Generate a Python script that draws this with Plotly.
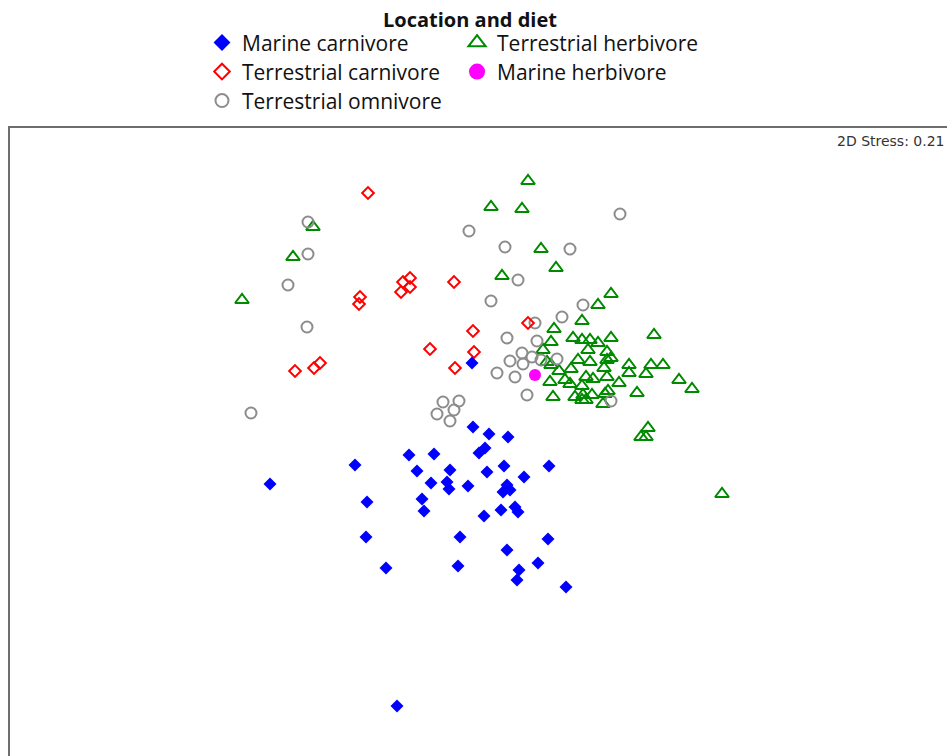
import plotly.graph_objects as go

# NMDS ordination scores (MDS1, MDS2) by location and diet group
marine_carnivore_x = [-0.07, 0.09, 0.28, -0.01, 0.05, -0.71, -0.46, -1.25, -0.63, -0.30,
                      -0.33, -0.31, 0.07, 0.24, 0.69, 0.44, -0.49, -0.12, 0.27, 0.23,
                      0.30, -0.58, -0.56, 0.04, 0.21, 0.35, 0.38, -1.13, -1.14, -0.20,
                      0.68, 0.27, 0.58, -0.94, -0.22, 0.39, 0.37, 0.86, -2.10, -0.83, -0.08]
marine_carnivore_y = [0.13, 0.06, 0.03, -0.13, -0.08, -0.15, -0.14, -0.25, -0.31, -0.30,
                      -0.42, -0.49, -0.32, -0.26, -0.26, -0.37, -0.43, -0.46, -0.45, -0.52,
                      -0.50, -0.59, -0.71, -0.76, -0.70, -0.67, -0.72, -0.62, -0.97, -0.97,
                      -0.99, -1.10, -1.23, -1.28, -1.26, -1.30, -1.40, -1.47, -0.44, -2.66, 0.77]

terrestrial_carnivore_x = [-1.12, -0.77, -0.70, -0.79, -0.70, -0.26, -1.20, -1.21,
                           -0.07, -0.50, -0.06, -1.85, -1.66, -1.60, -0.25, 0.48]
terrestrial_carnivore_y = [2.47, 1.58, 1.62, 1.48, 1.53, 1.58, 1.43, 1.36,
                           1.09, 0.91, 0.88, 0.69, 0.72, 0.77, 0.72, 1.17]

terrestrial_omnivore_x = [-1.72, -0.11, -1.72, -1.92, 0.11, -1.73, -2.29, -0.37, -0.21, -0.26,
                          -0.43, -0.30, 0.17, 1.40, 0.25, 0.90, 0.38, 1.03, 0.82, 0.55,
                          0.27, 0.57, 0.42, 0.30, 0.52, 0.43, 0.61, 0.77, 0.35, 0.47, 1.31]
terrestrial_omnivore_y = [2.18, 2.09, 1.86, 1.55, 1.39, 1.13, 0.27, 0.38, 0.39, 0.30,
                          0.26, 0.19, 0.67, 2.26, 1.93, 1.91, 1.60, 1.35, 1.23, 1.17,
                          1.02, 0.99, 0.87, 0.79, 0.83, 0.76, 0.80, 0.81, 0.63, 0.45, 0.39]

terrestrial_herbivore_x = [0.48, 0.11, 0.42, -1.67, -1.87, -2.38, 0.61, 0.76, 0.22, 1.31,
                           1.18, 1.02, 0.74, 1.74, 0.93, 1.02, 1.10, 1.18, 1.31, 0.71,
                           1.08, 1.27, 0.63, 0.67, 0.71, 0.98, 1.10, 1.27, 1.31, 0.91,
                           1.24, 0.79, 1.49, 1.71, 1.83, 1.49, 1.66, 0.70, 0.85, 1.06,
                           1.13, 1.27, 0.90, 1.02, 1.39, 1.99, 2.12, 1.28, 1.57, 0.73,
                           0.95, 1.03, 1.12, 1.02, 1.06, 1.25, 1.23, 1.68, 1.61, 1.66, 2.42]
terrestrial_herbivore_y = [2.59, 2.33, 2.31, 2.13, 1.83, 1.40, 1.91, 1.72, 1.64, 1.46,
                           1.35, 1.19, 1.11, 1.05, 1.02, 1.00, 1.00, 0.97, 1.02, 0.98,
                           0.90, 0.88, 0.90, 0.78, 0.75, 0.80, 0.78, 0.80, 0.82, 0.71,
                           0.72, 0.69, 0.75, 0.75, 0.75, 0.67, 0.66, 0.58, 0.60, 0.63,
                           0.61, 0.63, 0.56, 0.54, 0.57, 0.60, 0.51, 0.49, 0.47, 0.43,
                           0.43, 0.45, 0.45, 0.40, 0.40, 0.46, 0.36, 0.12, 0.03, 0.03, -0.54]

marine_herbivore_x = [0.55]
marine_herbivore_y = [0.65]

stress_value = 0.21

GREEN = "#008a00"
GREY = "#8c8c8c"
RED = "#ff0000"
BLUE = "#0000ff"
MAGENTA = "#ff00ff"

# Drawing order is back-to-front; each group gets its own legend slot
groups = [
    dict(name="Terrestrial herbivore", x=terrestrial_herbivore_x, y=terrestrial_herbivore_y,
         symbol="triangle-up-open", color=GREEN, size=12, lw=2, legend_size=15,
         legend="legend4"),
    dict(name="Terrestrial omnivore", x=terrestrial_omnivore_x, y=terrestrial_omnivore_y,
         symbol="circle-open", color=GREY, size=11, lw=2, legend_size=13,
         legend="legend3"),
    dict(name="Terrestrial carnivore", x=terrestrial_carnivore_x, y=terrestrial_carnivore_y,
         symbol="diamond-open", color=RED, size=9, lw=2, legend_size=12,
         legend="legend2"),
    dict(name="Marine carnivore", x=marine_carnivore_x, y=marine_carnivore_y,
         symbol="diamond", color=BLUE, size=10, lw=0, legend_size=13,
         legend="legend"),
    dict(name="Marine herbivore", x=marine_herbivore_x, y=marine_herbivore_y,
         symbol="circle", color=MAGENTA, size=12, lw=0, legend_size=16,
         legend="legend5"),
]

fig = go.Figure()

for g in groups:
    fig.add_trace(go.Scatter(
        x=g["x"], y=g["y"], mode="markers", name=g["name"], showlegend=False,
        marker=dict(symbol=g["symbol"], size=g["size"], color=g["color"],
                    line=dict(width=g["lw"], color=g["color"])),
    ))

# Legend keys drawn with larger symbols than the plotted points
for g in groups:
    fig.add_trace(go.Scatter(
        x=[None], y=[None], mode="markers", name=g["name"], legend=g["legend"],
        showlegend=True,
        marker=dict(symbol=g["symbol"], size=g["legend_size"], color=g["color"],
                    line=dict(width=g["lw"], color=g["color"])),
    ))

legend_font = dict(family="Open Sans, sans-serif", size=21, color="#111111")


def legend_box(x, y):
    return dict(x=x, y=y, xanchor="left", yanchor="top", orientation="v",
                font=legend_font, bgcolor="rgba(0,0,0,0)", itemsizing="trace")


col1, col2 = 0.2049, 0.4771
row1, row2, row3 = 1.1682, 1.1220, 1.0758

fig.update_layout(
    width=947, height=756,
    margin=dict(l=10, r=0, t=128, b=0),
    paper_bgcolor="white", plot_bgcolor="white",
    showlegend=True,
    legend=legend_box(col1, row1),
    legend2=legend_box(col1, row2),
    legend3=legend_box(col1, row3),
    legend4=legend_box(col2, row1),
    legend5=legend_box(col2, row2),
    xaxis=dict(range=[-4.70, 4.67], side="top", showline=True, linecolor="#6e6e6e",
               linewidth=2, showgrid=False, zeroline=False, showticklabels=False,
               ticks=""),
    yaxis=dict(range=[-3.16, 3.12], showline=True, linecolor="#6e6e6e",
               linewidth=2, showgrid=False, zeroline=False, showticklabels=False,
               ticks=""),
    annotations=[
        dict(text="<b>Location and diet</b>", xref="paper", yref="paper",
             x=0.491, y=1.172, xanchor="center", yanchor="middle", showarrow=False,
             font=dict(family="Open Sans, sans-serif", size=20, color="#111111")),
        dict(text=f"2D Stress: {stress_value:.2f}", xref="paper", yref="paper",
             x=1.0, y=0.979, xanchor="right", yanchor="middle", showarrow=False,
             font=dict(family="DejaVu Sans, sans-serif", size=14, color="#333333")),
    ],
)

fig.write_html("out.html")
